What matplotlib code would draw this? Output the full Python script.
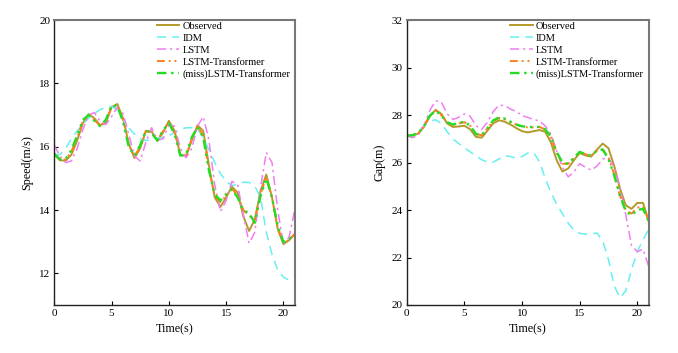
import matplotlib.pyplot as plt
import numpy as np

plt.rcParams['font.family'] = ['Liberation Serif', 'DejaVu Serif']
plt.rcParams['font.size'] = 8

t = np.arange(0, 21.01, 0.5)

speed_obs = [15.78, 15.57, 15.56, 15.75, 16.2, 16.75, 17.03, 16.9, 16.68, 16.75, 17.25,
             17.35, 16.9, 16.1, 15.64, 15.95, 16.5, 16.48, 16.18, 16.45, 16.82, 16.5,
             15.75, 15.7, 16.2, 16.68, 16.5, 15.4, 14.4, 14.1, 14.4, 14.74, 14.55, 13.8,
             13.34, 13.7, 14.6, 15.12, 14.4, 13.4, 12.92, 13.05, 13.25]
speed_idm = [15.75, 15.75, 15.95, 16.25, 16.5, 16.72, 16.9, 17.05, 17.17, 17.25, 17.28,
             17.15, 16.85, 16.6, 16.4, 16.25, 16.2, 16.22, 16.27, 16.3, 16.35, 16.45,
             16.55, 16.6, 16.6, 16.55, 16.3, 15.9, 15.5, 15.15, 14.9, 14.78, 14.8, 14.88,
             14.87, 14.75, 14.4, 13.3, 12.6, 12.1, 11.88, 11.78, 11.73]
speed_lstm = [16.05, 15.7, 15.5, 15.55, 15.95, 16.55, 17.0, 17.08, 16.8, 16.7, 16.95,
              17.25, 17.05, 16.4, 15.7, 15.55, 16.15, 16.6, 16.2, 16.25, 16.7, 16.65,
              15.95, 15.65, 15.95, 16.65, 16.95, 16.2, 14.8, 13.95, 14.3, 14.9, 14.8,
              13.85, 12.95, 13.3, 14.7, 15.82, 15.5, 14.0, 12.9, 13.15, 14.05]
speed_lt = [15.75, 15.58, 15.6, 15.85, 16.3, 16.8, 17.0, 16.85, 16.66, 16.8, 17.25,
            17.3, 16.85, 16.05, 15.7, 16.0, 16.5, 16.45, 16.2, 16.5, 16.78, 16.45,
            15.75, 15.72, 16.25, 16.65, 16.35, 15.3, 14.45, 14.25, 14.45, 14.68, 14.45,
            14.0, 13.82, 13.7, 14.5, 15.05, 14.4, 13.45, 12.95, 13.05, 13.25]
speed_miss = [15.78, 15.6, 15.62, 15.9, 16.35, 16.85, 17.0, 16.82, 16.65, 16.85, 17.3,
              17.28, 16.8, 16.0, 15.72, 16.05, 16.52, 16.42, 16.2, 16.52, 16.75, 16.4,
              15.72, 15.75, 16.3, 16.62, 16.3, 15.25, 14.5, 14.3, 14.5, 14.66, 14.4,
              14.0, 13.9, 13.6, 14.45, 15.0, 14.4, 13.5, 12.98, 13.08, 13.25]

gap_obs = [27.13, 27.15, 27.22, 27.5, 27.95, 28.22, 28.05, 27.65, 27.5, 27.52, 27.55,
           27.4, 27.08, 27.05, 27.35, 27.65, 27.78, 27.72, 27.6, 27.45, 27.32, 27.27,
           27.32, 27.37, 27.3, 26.85, 26.1, 25.62, 25.75, 26.1, 26.4, 26.3, 26.25,
           26.55, 26.8, 26.6, 25.85, 24.9, 24.2, 24.05, 24.3, 24.3, 23.5]
gap_idm = [27.13, 27.15, 27.3, 27.55, 27.75, 27.8, 27.65, 27.3, 27.0, 26.8, 26.62,
           26.45, 26.28, 26.12, 26.02, 26.02, 26.15, 26.3, 26.25, 26.18, 26.25, 26.4,
           26.42, 26.05, 25.35, 24.75, 24.25, 23.85, 23.45, 23.15, 23.02, 22.98, 23.0,
           23.03, 22.7, 21.9, 20.8, 20.3, 20.6, 21.5, 22.25, 22.75, 23.2]
gap_lstm = [27.13, 27.05, 27.15, 27.55, 28.2, 28.6, 28.55, 28.05, 27.82, 27.9, 28.05,
            27.95, 27.55, 27.4, 27.7, 28.15, 28.42, 28.4, 28.25, 28.15, 27.98, 27.9,
            27.82, 27.75, 27.55, 27.2, 26.5, 25.8, 25.4, 25.6, 25.95, 25.8, 25.68,
            25.85, 26.15, 26.2, 25.8, 24.95, 23.8, 22.5, 22.25, 22.35, 21.6]
gap_lt = [27.13, 27.15, 27.25, 27.55, 27.98, 28.2, 28.0, 27.7, 27.58, 27.65, 27.7,
          27.55, 27.2, 27.15, 27.45, 27.75, 27.88, 27.82, 27.7, 27.6, 27.52, 27.48,
          27.48, 27.5, 27.4, 27.05, 26.4, 25.95, 25.95, 26.2, 26.45, 26.35, 26.3,
          26.5, 26.55, 26.2, 25.5, 24.6, 24.0, 23.85, 24.1, 24.15, 23.55]
gap_miss = [27.13, 27.15, 27.25, 27.55, 27.98, 28.18, 27.98, 27.7, 27.6, 27.68, 27.72,
            27.55, 27.2, 27.15, 27.45, 27.78, 27.9, 27.85, 27.72, 27.6, 27.53, 27.5,
            27.5, 27.5, 27.4, 27.1, 26.45, 26.0, 25.95, 26.2, 26.45, 26.35, 26.3,
            26.5, 26.55, 26.15, 25.45, 24.6, 23.95, 23.78, 24.0, 24.05, 23.5]

labels = ['Observed', 'IDM', 'LSTM', 'LSTM-Transformer', '(miss)LSTM-Transformer']
colors = ['#b39a2c', '#66f0f0', '#f07ef0', '#ff7f1e', '#22dd22']
styles = ['-', (0, (6, 4)), (0, (6, 2.5, 1.5, 2.5)), (0, (4, 2, 1, 2, 1, 2)), (0, (4, 2, 1, 2, 1, 2))]
widths = [1.4, 1.1, 1.1, 1.4, 1.7]

fig = plt.figure(figsize=(6.78, 3.53), dpi=100)
ax1 = fig.add_axes([0.080, 0.136, 0.355, 0.807])
ax2 = fig.add_axes([0.600, 0.136, 0.357, 0.807])


def style_axes(ax, ylim, yticks, ylabel):
    ax.set_xlim(0, 21)
    ax.set_ylim(*ylim)
    ax.set_xticks([0, 5, 10, 15, 20])
    ax.set_yticks(yticks)
    ax.tick_params(direction='in', length=3, width=0.8, pad=3, labelsize=8)
    for s in ['left', 'bottom']:
        ax.spines[s].set_color('#222222')
        ax.spines[s].set_linewidth(1.0)
    for s in ['top', 'right']:
        ax.spines[s].set_color('#777777')
        ax.spines[s].set_linewidth(1.5)
    ax.set_xlabel('Time(s)', fontsize=8.7, labelpad=4)
    ax.set_ylabel(ylabel, fontsize=8.7, labelpad=4)
    ax.legend(loc='upper left', bbox_to_anchor=(0.425, 0.994), frameon=False,
              borderpad=0, borderaxespad=0, handlelength=2.2, handletextpad=0.3,
              labelspacing=0.25, fontsize=7.5)


for ax, series in [(ax1, [speed_obs, speed_idm, speed_lstm, speed_lt, speed_miss]),
                   (ax2, [gap_obs, gap_idm, gap_lstm, gap_lt, gap_miss])]:
    for y, lab, c, ls, lw in zip(series, labels, colors, styles, widths):
        ax.plot(t, y, color=c, linestyle=ls, linewidth=lw, label=lab)

style_axes(ax1, (11, 20), [12, 14, 16, 18, 20], 'Speed(m/s)')
style_axes(ax2, (20, 32), [20, 22, 24, 26, 28, 30, 32], 'Gap(m)')

fig.savefig('out.png', dpi=100)
